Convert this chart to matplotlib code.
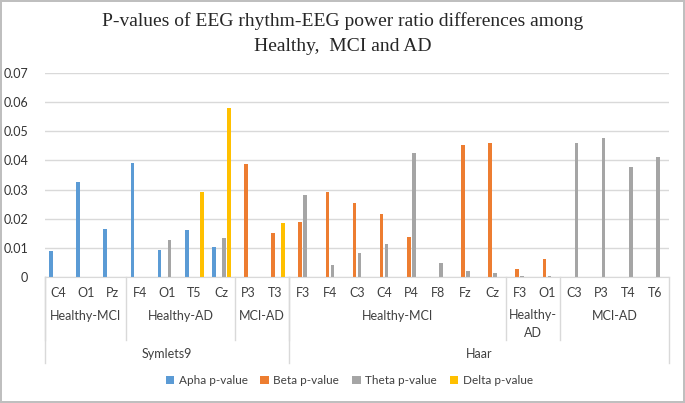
import matplotlib.pyplot as plt
import matplotlib.transforms as mtransforms
import numpy as np

# channels along the x axis, with their group and wavelet
channels = ["C4", "O1", "Pz", "F4", "O1", "T5", "Cz", "P3", "T3",
            "F3", "F4", "C3", "C4", "P4", "F8", "Fz", "Cz", "F3", "O1",
            "C3", "P3", "T4", "T6"]
groups = [("Healthy-MCI", 3), ("Healthy-AD", 4), ("MCI-AD", 2),
          ("Healthy-MCI", 8), ("Healthy-\nAD", 2), ("MCI-AD", 4)]
wavelets = [("Symlets9", 9), ("Haar", 14)]

nan = np.nan
alpha = [0.0088, 0.0325, 0.0165, 0.0391, 0.0092, 0.0162, 0.0102, nan, nan,
         nan, nan, nan, nan, nan, nan, nan, nan, nan, nan,
         nan, nan, nan, nan]
beta = [nan, nan, nan, nan, nan, nan, nan, 0.0388, 0.0152,
        0.0187, 0.0290, 0.0255, 0.0215, 0.0138, nan, 0.0452, 0.0459, 0.0028, 0.0061,
        nan, nan, nan, nan]
theta = [nan, nan, nan, nan, 0.0126, nan, 0.0134, nan, nan,
         0.0282, 0.0042, 0.0082, 0.0114, 0.0424, 0.0049, 0.0021, 0.0014, 0.0003, 0.0004,
         0.0459, 0.0478, 0.0378, 0.0410]
delta = [nan, nan, nan, nan, nan, 0.0290, 0.0580, nan, 0.0184,
         nan, nan, nan, nan, nan, nan, nan, nan, nan, nan,
         nan, nan, nan, nan]

series = [("Apha p-value", alpha, "#5B9BD5"),
          ("Beta p-value", beta, "#ED7D31"),
          ("Theta p-value", theta, "#A5A5A5"),
          ("Delta p-value", delta, "#FFC000")]

plt.rcParams["font.family"] = ["Lato", "DejaVu Sans"]
grid_col = "#D9D9D9"
text_col = "#404040"

fig = plt.figure(figsize=(6.85, 4.03), dpi=100)
fig.patch.set_edgecolor("#BFBFBF")
fig.patch.set_linewidth(1.5)
ax = fig.add_axes([0.0657, 0.3127, 0.9109, 0.5062])

x = np.arange(len(channels)) + 0.5
step = 0.185
width = 0.135
for k, (label, vals, col) in enumerate(series):
    ax.bar(x + (k - 1.5) * step, vals, width=width, color=col, label=label)

ax.set_xlim(0, len(channels))
ax.set_ylim(0, 0.07)
ax.set_yticks(np.arange(0, 0.071, 0.01))
ax.set_yticklabels(["0"] + ["%.2f" % v for v in np.arange(0.01, 0.071, 0.01)])
ax.yaxis.grid(True, color=grid_col, linewidth=1)
ax.set_axisbelow(True)
for s in ["top", "right", "left"]:
    ax.spines[s].set_visible(False)
ax.spines["bottom"].set_color(grid_col)
ax.tick_params(axis="y", length=0, labelsize=9, labelcolor="#333333", pad=12)
ax.set_xticks([])

trans = mtransforms.blended_transform_factory(ax.transData, ax.transAxes)

# first level: channel names
for xi, ch in zip(x, channels):
    ax.text(xi, -0.078, ch, transform=trans, ha="center", va="center",
            fontsize=9, color=text_col)

# second level: comparison groups
pos = 0
for name, n in groups:
    ax.text(pos + n / 2, -0.23 if "\n" in name else -0.191, name, transform=trans,
            ha="center", va="center", fontsize=9, color=text_col, linespacing=1.55)
    ax.plot([pos, pos], [0, -0.309], transform=trans, color=grid_col,
            linewidth=1, clip_on=False)
    pos += n

# third level: wavelet
pos = 0
for name, n in wavelets:
    ax.text(pos + n / 2, -0.377, name, transform=trans, ha="center", va="center",
            fontsize=9, color=text_col)
    ax.plot([pos, pos], [0, -0.422], transform=trans, color=grid_col,
            linewidth=1, clip_on=False)
    pos += n
ax.plot([pos, pos], [0, -0.422], transform=trans, color=grid_col,
        linewidth=1, clip_on=False)

fig.suptitle("P-values of EEG rhythm-EEG power ratio differences among\nHealthy,  MCI and AD",
             y=0.97, fontsize=14, family="Liberation Serif", color="#262626",
             linespacing=1.65)

leg = fig.legend(loc="center", bbox_to_anchor=(0.51, 0.055), ncol=4, frameon=False,
                 fontsize=8.5, handlelength=0.7, handleheight=0.7, handletextpad=0.4,
                 columnspacing=1.1)
for t in leg.get_texts():
    t.set_color(text_col)

fig.savefig("out.png", dpi=100)
